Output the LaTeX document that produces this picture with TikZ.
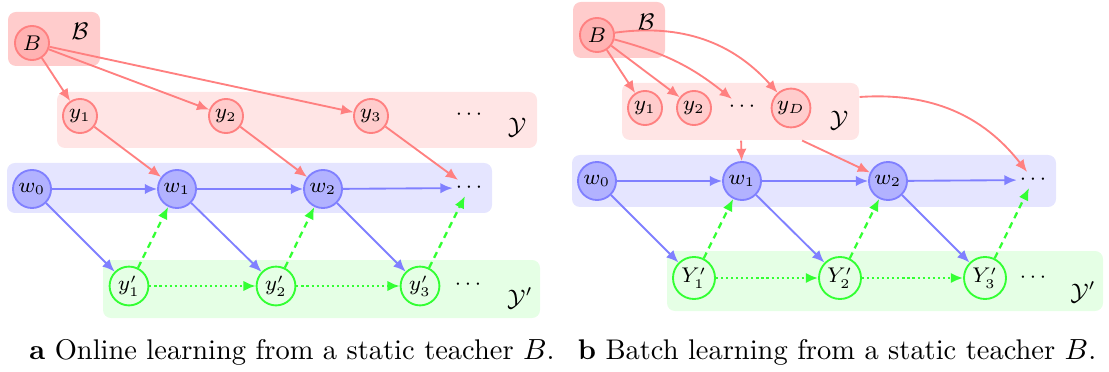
\documentclass[tikz,border=0pt]{standalone}
\usetikzlibrary{arrows.meta,fit}
\begin{document}
\begin{tikzpicture}[x=0.376pt,y=-0.376pt,
  box/.style={rounded corners=3pt, inner sep=0pt, draw=none},
  bbox/.style={box, fill=red!20},
  ybox/.style={box, fill=red!10},
  wbox/.style={box, fill=blue!10},
  pbox/.style={box, fill=green!10},
  nd/.style={circle, line width=0.7pt, inner sep=0pt, font=\fontsize{7.6}{9}\selectfont},
  bn/.style={nd, draw=red!50, fill=red!30, minimum size=12.8pt},
  yn/.style={nd, draw=red!50, fill=red!20, minimum size=12.8pt},
  wn/.style={nd, draw=blue!50, fill=blue!30, minimum size=14.3pt},
  pn/.style={nd, draw=green!80, fill=green!10, minimum size=14.6pt},
  Pn/.style={nd, draw=green!80, fill=green!10, minimum size=15.8pt},
  dn/.style={inner sep=1pt, font=\fontsize{7.6}{9}\selectfont},
  lab/.style={inner sep=0pt, font=\small},
  captxt/.style={inner sep=0pt, font=\fontsize{10.7}{13}\selectfont},
  tip/.style={-{Latex[length=4.6pt,width=3.9pt]}},
  rarr/.style={tip, draw=red!50, line width=0.7pt},
  barr/.style={tip, draw=blue!50, line width=0.7pt},
  garr/.style={tip, draw=green!80, line width=0.85pt, dash pattern=on 2.4pt off 1.8pt},
  darr/.style={tip, draw=green!80, line width=0.85pt, dash pattern=on 0.8pt off 1.1pt}
]
\useasboundingbox (0,0) rectangle (1109,372);

% ---------------- panel a ----------------
\coordinate (aB1) at (8,12);   \coordinate (aB2) at (100,66);
\coordinate (aY1) at (57,92);  \coordinate (aY2) at (537,148);
\coordinate (aW1) at (7,163);  \coordinate (aW2) at (492,213);
\coordinate (aP1) at (103,260);\coordinate (aP2) at (540,318);
\node[bbox, fit=(aB1)(aB2)] (aBbox) {};
\node[ybox, fit=(aY1)(aY2)] (aYbox) {};
\node[wbox, fit=(aW1)(aW2)] (aWbox) {};
\node[pbox, fit=(aP1)(aP2)] (aPbox) {};

\node[lab] (aLB) at (80,31) {$\mathcal{B}$};
\node[lab] (aLY) at (517,127) {$\mathcal{Y}$};
\node[lab] (aLP) at (520,298) {$\mathcal{Y}'$};

\node[bn] (aB) at (32,43) {$B$};
\node[yn] (ay1) at (80,116) {$y_1$};
\node[yn] (ay2) at (226,116) {$y_2$};
\node[yn] (ay3) at (371,116) {$y_3$};
\node[dn] (ayd) at (469,115) {$\cdots$};
\node[wn] (aw0) at (32,189) {$w_0$};
\node[wn] (aw1) at (177,189) {$w_1$};
\node[wn] (aw2) at (323,189) {$w_2$};
\node[dn] (awd) at (469,188) {$\cdots$};
\node[pn] (ap1) at (129,286) {$y'_1$};
\node[pn] (ap2) at (276,286) {$y'_2$};
\node[pn] (ap3) at (420,286) {$y'_3$};
\node[dn] (apd) at (468,285) {$\cdots$};

\draw[rarr] (aB) -- (ay1);
\draw[rarr] (aB) -- (ay2);
\draw[rarr] (aB) -- (ay3);
\draw[rarr] (ay1) -- (aw1);
\draw[rarr] (ay2) -- (aw2);
\draw[rarr] (ay3) -- (awd);
\draw[barr] (aw0) -- (aw1);
\draw[barr] (aw1) -- (aw2);
\draw[barr] (aw2) -- (awd);
\draw[barr] (aw0) -- (ap1);
\draw[barr] (aw1) -- (ap2);
\draw[barr] (aw2) -- (ap3);
\draw[garr] (ap1) -- (aw1);
\draw[garr] (ap2) -- (aw2);
\draw[garr] (ap3) -- (awd);
\draw[darr] (ap1) -- (ap2);
\draw[darr] (ap2) -- (ap3);

\node[captxt] (capa) at (292,352) {\textbf{a} Online learning from a static teacher $B$.};

% ---------------- panel b ----------------
\coordinate (bB1) at (573,2);   \coordinate (bB2) at (665,58);
\coordinate (bY1) at (622,83);  \coordinate (bY2) at (859,140);
\coordinate (bW1) at (572,155); \coordinate (bW2) at (1056,207);
\coordinate (bP1) at (667,251); \coordinate (bP2) at (1103,311);
\node[bbox, fit=(bB1)(bB2)] (bBbox) {};
\node[ybox, fit=(bY1)(bY2)] (bYbox) {};
\node[wbox, fit=(bW1)(bW2)] (bWbox) {};
\node[pbox, fit=(bP1)(bP2)] (bPbox) {};

\node[lab] (bLB) at (646,22) {$\mathcal{B}$};
\node[lab] (bLY) at (839,120) {$\mathcal{Y}$};
\node[lab] (bLP) at (1083,292) {$\mathcal{Y}'$};

\node[bn] (bB) at (597,35) {$B$};
\node[yn] (by1) at (645,108) {$y_1$};
\node[yn] (by2) at (694,108) {$y_2$};
\node[dn] (byd) at (742,107) {$\cdots$};
\node[yn, minimum size=14.6pt] (byD) at (791,108) {$y_D$};
\node[wn] (bw0) at (597,181) {$w_0$};
\node[wn] (bw1) at (742,181) {$w_1$};
\node[wn] (bw2) at (888,181) {$w_2$};
\node[dn] (bwd) at (1033,180) {$\cdots$};
\node[Pn] (bp1) at (694,278) {$Y'_1$};
\node[Pn] (bp2) at (840,278) {$Y'_2$};
\node[Pn] (bp3) at (985,278) {$Y'_3$};
\node[dn] (bpd) at (1033,278) {$\cdots$};

\draw[rarr] (bB) -- (by1);
\draw[rarr] (bB) -- (by2);
\draw[rarr] (bB) to[bend left=12] (byd);
\draw[rarr] (bB) to[bend left=28] (byD);
\draw[rarr] (bYbox) -- (bw1);
\draw[rarr] (bYbox) -- (bw2);
\draw[rarr] (bYbox.east |- 0,97) to[bend left=28] (bwd);
\draw[barr] (bw0) -- (bw1);
\draw[barr] (bw1) -- (bw2);
\draw[barr] (bw2) -- (bwd);
\draw[barr] (bw0) -- (bp1);
\draw[barr] (bw1) -- (bp2);
\draw[barr] (bw2) -- (bp3);
\draw[garr] (bp1) -- (bw1);
\draw[garr] (bp2) -- (bw2);
\draw[garr] (bp3) -- (bwd);
\draw[darr] (bp1) -- (bp2);
\draw[darr] (bp2) -- (bp3);

\node[captxt] (capb) at (837,352) {\textbf{b} Batch learning from a static teacher $B$.};
\end{tikzpicture}
\end{document}
